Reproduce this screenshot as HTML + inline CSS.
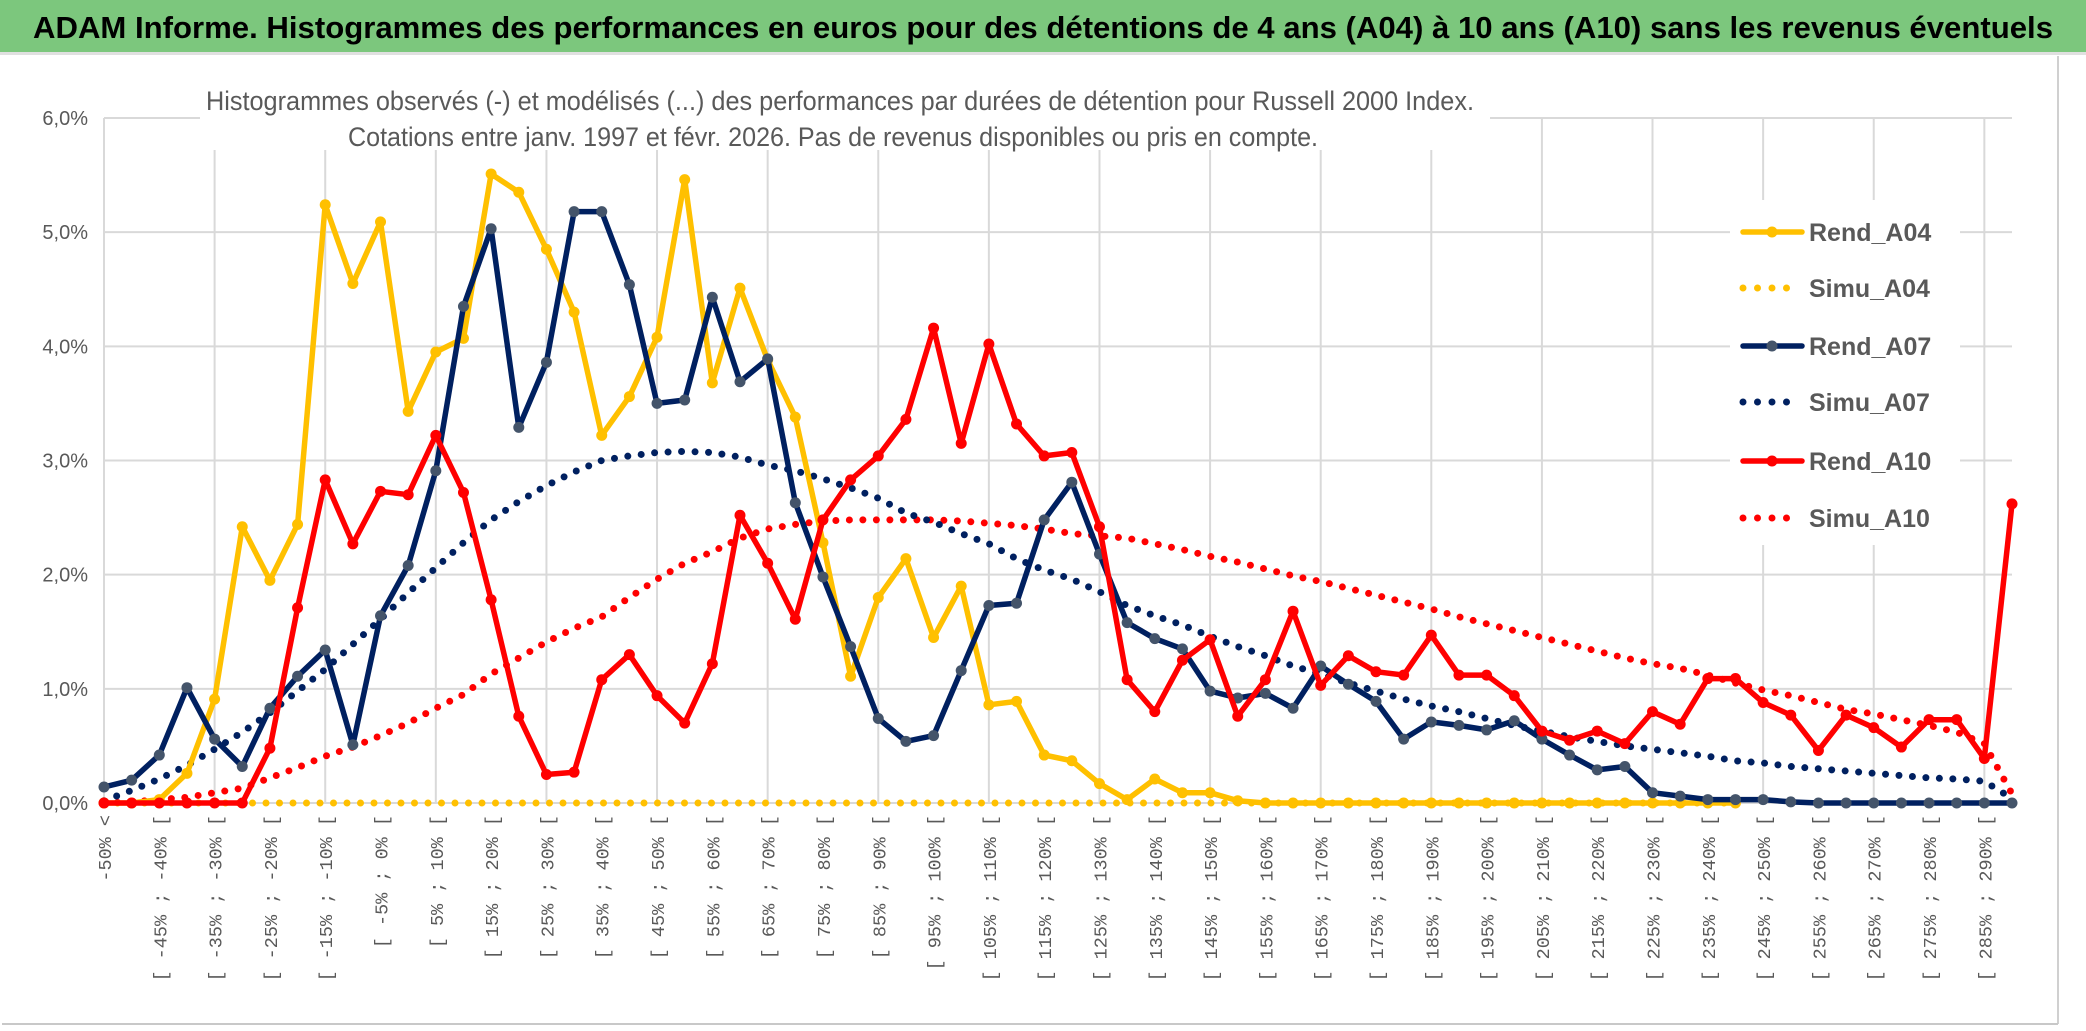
<!DOCTYPE html>
<html><head><meta charset="utf-8"><style>
html,body{margin:0;padding:0;background:#fff;}
svg{display:block;}
</style></head><body>
<svg id="chart" width="2086" height="1031" viewBox="0 0 2086 1031" xmlns="http://www.w3.org/2000/svg" font-family="'Liberation Sans Narrow','Liberation Sans',sans-serif">
<rect x="0" y="0" width="2086" height="1031" fill="#fff"/>
<rect x="0" y="0" width="2086" height="52" fill="#7cc77d"/>
<rect x="0" y="52" width="2086" height="3" fill="#e0e0e0"/>
<text x="33" y="38" font-size="31" font-weight="bold" fill="#000" textLength="2020" lengthAdjust="spacingAndGlyphs">ADAM Informe. Histogrammes des performances en euros pour des détentions de 4 ans (A04) à 10 ans (A10) sans les revenus éventuels</text>
<line x1="2058" y1="56" x2="2058" y2="1024" stroke="#d0d0d0" stroke-width="2"/>
<line x1="2" y1="1024" x2="2058" y2="1024" stroke="#c8c8c8" stroke-width="2"/>
<g id="grid"></g>
<g id="yaxis"></g>
<g id="xaxis"></g>
<rect x="200" y="80" width="1290" height="70" fill="#fff"/>
<text x="840" y="110" font-size="27" fill="#595959" text-anchor="middle" textLength="1268" lengthAdjust="spacingAndGlyphs">Histogrammes observés (-) et modélisés (...) des performances par durées de détention pour Russell 2000 Index.</text>
<text x="833" y="146" font-size="27" fill="#595959" text-anchor="middle" textLength="970" lengthAdjust="spacingAndGlyphs">Cotations entre janv. 1997 et févr. 2026. Pas de revenus disponibles ou pris en compte.</text>
<rect x="1730" y="200" width="230" height="345" fill="#fff"/>
<g id="series"></g>
<g id="legend"></g>
</svg>
<script>
const categories = (function(){ const c=["-50% <"]; for(let a=-50;a<=285;a+=5){c.push("[ "+a+"% ; "+(a+5)+"% [");} c.push("290% >"); return c; })();
const yTicks = [0,1,2,3,4,5,6];
const yTickLabels = ["0,0%","1,0%","2,0%","3,0%","4,0%","5,0%","6,0%"];
const rendA04 = [0,0,0.03,0.26,0.91,2.42,1.95,2.44,5.24,4.55,5.09,3.43,3.95,4.07,5.51,5.35,4.85,4.30,3.22,3.56,4.08,5.46,3.68,4.51,3.88,3.38,2.28,1.11,1.80,2.14,1.45,1.90,0.86,0.89,0.42,0.37,0.17,0.03,0.21,0.09,0.09,0.02,0,0,0,0,0,0,0,0,0,0,0,0,0,0,0,0,0,0,null,null,null,null,null,null,null,null,null,null];
const simuA04 = [0,0,0,0,0,0,0,0,0,0,0,0,0,0,0,0,0,0,0,0,0,0,0,0,0,0,0,0,0,0,0,0,0,0,0,0,0,0,0,0,0,0,0,0,0,0,0,0,0,0,0,0,0,0,0,0,0,0,0,0,null,null,null,null,null,null,null,null,null,null];
const rendA07 = [0.14,0.20,0.42,1.01,0.56,0.32,0.83,1.11,1.34,0.51,1.64,2.08,2.91,4.35,5.03,3.29,3.86,5.18,5.18,4.54,3.50,3.53,4.43,3.69,3.89,2.63,1.98,1.37,0.74,0.54,0.59,1.16,1.73,1.75,2.48,2.81,2.18,1.58,1.44,1.35,0.98,0.92,0.96,0.83,1.20,1.04,0.89,0.56,0.71,0.68,0.64,0.72,0.56,0.42,0.29,0.32,0.09,0.06,0.03,0.03,0.03,0.01,0,0,0,0,0,0,0,0];
const simuA07 = [0.02,0.11,0.21,0.33,0.47,0.62,0.79,0.98,1.17,1.39,1.61,1.84,2.06,2.28,2.48,2.64,2.78,2.90,3.00,3.04,3.07,3.08,3.07,3.03,2.96,2.91,2.84,2.76,2.67,2.54,2.46,2.36,2.27,2.14,2.04,1.96,1.85,1.73,1.64,1.56,1.46,1.37,1.29,1.20,1.13,1.05,0.98,0.91,0.85,0.80,0.74,0.68,0.63,0.58,0.54,0.50,0.47,0.44,0.41,0.37,0.35,0.32,0.30,0.28,0.26,0.24,0.22,0.21,0.19,0.04];
const rendA10 = [0,0,0,0,0,0,0.48,1.71,2.83,2.27,2.73,2.70,3.22,2.72,1.78,0.76,0.25,0.27,1.08,1.30,0.94,0.70,1.22,2.52,2.10,1.61,2.48,2.83,3.04,3.36,4.16,3.15,4.02,3.32,3.04,3.07,2.42,1.08,0.80,1.25,1.43,0.76,1.08,1.68,1.03,1.29,1.15,1.12,1.47,1.12,1.12,0.94,0.63,0.55,0.63,0.52,0.80,0.69,1.09,1.09,0.88,0.77,0.46,0.77,0.66,0.49,0.73,0.73,0.39,2.62];
const simuA10 = [0,0.01,0.03,0.05,0.09,0.13,0.22,0.31,0.41,0.49,0.59,0.70,0.83,0.95,1.13,1.27,1.41,1.53,1.63,1.80,1.96,2.10,2.20,2.32,2.40,2.44,2.47,2.48,2.48,2.48,2.48,2.47,2.45,2.43,2.40,2.36,2.34,2.32,2.27,2.22,2.16,2.11,2.05,1.99,1.94,1.88,1.82,1.76,1.70,1.63,1.57,1.51,1.45,1.39,1.33,1.27,1.22,1.18,1.12,1.05,0.99,0.94,0.88,0.82,0.78,0.73,0.68,0.62,0.52,0.08];
const seriesNames = ["Rend_A04","Simu_A04","Rend_A07","Simu_A07","Rend_A10","Simu_A10"];

const NS="http://www.w3.org/2000/svg";
const X0=104, X1=2012, Y0=803, Y6=118;
function xScale(i){ return X0 + i*(X1-X0)/(categories.length-1); }
function yScale(v){ return Y0 - v*(Y0-Y6)/6; }
function mk(tag,attrs,parent){ const e=document.createElementNS(NS,tag); for(const k in attrs) e.setAttribute(k,attrs[k]); parent.appendChild(e); return e; }

const grid=document.getElementById('grid');
yTicks.forEach((t,k)=>{
  const l=mk('line',{x1:X0,x2:X1,y1:yScale(t),y2:yScale(t),stroke:'#d9d9d9','stroke-width':2},grid);
  
  
});
for(let i=0;i<categories.length;i+=4){
  const l=mk('line',{x1:xScale(i),x2:xScale(i),y1:Y6,y2:Y0,stroke:'#d9d9d9','stroke-width':2},grid);
  
  
}
const yaxis=document.getElementById('yaxis');
yTicks.forEach((t,k)=>{
  const tx=mk('text',{x:88,y:yScale(t)+7,'font-size':20,fill:'#595959','text-anchor':'end'},yaxis);
  tx.textContent=yTickLabels[k];
  
  
});
const xaxis=document.getElementById('xaxis');
for(let i=0;i<categories.length-1;i+=2){
  const x=xScale(i)+7, y=815;
  const tx=mk('text',{x:x,y:y,'font-size':18.5,fill:'#595959','text-anchor':'end','font-family':"'Liberation Mono',monospace",transform:'rotate(-90 '+x+' '+y+')'},xaxis);
  tx.textContent=categories[i];
  
  
}
const seriesG=document.getElementById('series');
function drawSeries(vals,color,dotted,marker,name){
  const g=mk('g',{},seriesG);
  
  
  let d='',pen=false;
  vals.forEach((v,i)=>{ if(v===null){pen=false;return;} d+=(pen?'L':'M')+xScale(i).toFixed(1)+' '+yScale(v).toFixed(1)+' '; pen=true; });
  const p=mk('path',{d:d,fill:'none',stroke:color,'stroke-width':dotted?7:5.5,'stroke-linejoin':'round','stroke-linecap':'round'},g);
  if(dotted) p.setAttribute('stroke-dasharray','0 13.5');
  
  
  if(!dotted){
    vals.forEach((v,i)=>{ if(v===null) return;
      const c=mk('circle',{cx:xScale(i),cy:yScale(v),r:5.5,fill:marker},g);
      
      
    });
  }
}
drawSeries(simuA04,'#ffc000',true,null,'simu-a04');
drawSeries(simuA10,'#ff0000',true,null,'simu-a10');
drawSeries(simuA07,'#002060',true,null,'simu-a07');
drawSeries(rendA04,'#ffc000',false,'#ffc000','rend-a04');
drawSeries(rendA07,'#002060',false,'#44546a','rend-a07');
drawSeries(rendA10,'#ff0000',false,'#ff0000','rend-a10');

const legend=document.getElementById('legend');
const legColors=['#ffc000','#ffc000','#002060','#002060','#ff0000','#ff0000'];
const legMarker=['#ffc000',null,'#44546a',null,'#ff0000',null];
const legY=[232,288,346,402,461,518];
seriesNames.forEach((n,k)=>{
  const g=mk('g',{},legend);
  
  
  const y=legY[k];
  if(legMarker[k]){
    mk('line',{x1:1743,x2:1802,y1:y,y2:y,stroke:legColors[k],'stroke-width':5.5,'stroke-linecap':'round'},g);
    mk('circle',{cx:1772,cy:y,r:5.5,fill:legMarker[k]},g);
  } else {
    mk('line',{x1:1743,x2:1800,y1:y,y2:y,stroke:legColors[k],'stroke-width':7,'stroke-linecap':'round','stroke-dasharray':'0 14.5'},g);
  }
  const t=mk('text',{x:1809,y:y+9,'font-size':25,'font-weight':'bold',fill:'#595959'},g);
  t.textContent=n;
});
</script>
</body></html>
